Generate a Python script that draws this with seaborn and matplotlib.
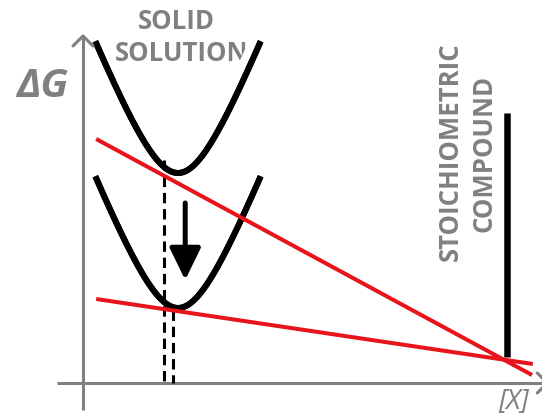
import numpy as np
import matplotlib
matplotlib.use("Agg")
import matplotlib.pyplot as plt
import seaborn as sns
from matplotlib import patheffects as pe

# ---- schematic values (composition x, Gibbs energy ΔG in arbitrary units) ----
# solid-solution free-energy wells: centre, half-width, steepness, tip rounding
well_center = 0.224
well_halfwidth = 0.195
well_steepness = 10.77
well_rounding = 0.0943
well_minima = [2.10, 0.75]          # before and after lowering

# common-tangent lines: composition and ΔG at each end
tangent_x = [[0.031, 1.059], [0.031, 1.061]]
tangent_g = [[2.44, 0.08], [0.84, 0.19]]

# stoichiometric compound bar
compound_x = 1.0
compound_g = [0.26, 2.70]

# dashed drop lines to the composition axis
drop_x = [0.191, 0.212]
drop_top = [2.23, 0.73]

# arrow showing the lowering of the well
arrow_x = 0.241
arrow_g = [1.80, 1.03]

labels_solid = ["SOLID", "SOLUTION"]
labels_compound = ["STOICHIOMETRIC", "COMPOUND"]

GRAY = "#808080"
RED = "#e8141c"

sns.set_style("white")
plt.rcParams["font.family"] = ["Open Sans", "DejaVu Sans"]

fig = plt.figure(figsize=(5.42, 4.15), dpi=100)
ax = fig.add_axes([0, 0, 1, 1])
ax.set_xlim(-0.1958, 1.0825)
ax.set_ylim(-0.32, 3.83)
ax.axis("off")

# axes with open arrow heads
ax.plot([0, 0], [-0.27, 3.47], color=GRAY, lw=2.2, zorder=5, solid_capstyle="butt")
ax.plot([-0.0236, 0, 0.0236], [3.37, 3.47, 3.37], color=GRAY, lw=2.2, zorder=5)
ax.plot([-0.061, 1.095], [0, 0], color=GRAY, lw=2.2, zorder=5, solid_capstyle="butt")
ax.plot([1.095 - 0.0236, 1.095, 1.095 - 0.0236], [0.1, 0, -0.1], color=GRAY, lw=2.2, zorder=5)

# axis titles
ax.text(-0.0967, 2.97, "ΔG", color=GRAY, fontsize=29, fontweight="bold",
        fontstyle="italic", ha="center", va="center")
ax.text(1.0165, -0.19, "[X]", color=GRAY, fontsize=20, fontstyle="italic",
        ha="center", va="center")

# region labels
LABEL_SIZE = 18.5
ax.text(well_center - 0.004, 3.62, labels_solid[0], color=GRAY, fontsize=LABEL_SIZE,
        fontweight="bold", ha="center", va="center", zorder=1)
ax.text(well_center + 0.009, 3.30, labels_solid[1], color=GRAY, fontsize=LABEL_SIZE,
        fontweight="bold", ha="center", va="center", zorder=1)
ax.text(0.8656, 2.31, labels_compound[0], color=GRAY, fontsize=LABEL_SIZE,
        fontweight="bold", rotation=90, ha="center", va="center")
ax.text(0.9458, 2.30, labels_compound[1], color=GRAY, fontsize=LABEL_SIZE,
        fontweight="bold", rotation=90, ha="center", va="center")

# free-energy wells
u = np.linspace(-well_halfwidth, well_halfwidth, 301)
shape = well_steepness * (np.sqrt(u**2 + well_rounding**2) - well_rounding)
for gmin in well_minima:
    sns.lineplot(x=well_center + u, y=gmin + shape, color="black", lw=4.3,
                 sort=False, estimator=None, ax=ax, zorder=3)
    ln = ax.lines[-1]
    ln.set_solid_capstyle("butt")
    ln.set_path_effects([pe.withStroke(linewidth=16, foreground="white"), pe.Normal()])

# dashed drop lines
for x, top in zip(drop_x, drop_top):
    sns.lineplot(x=[x, x], y=[top, 0], color="black", lw=2.2, sort=False,
                 estimator=None, ax=ax, zorder=6)
    ax.lines[-1].set_linestyle((0, (3.4, 1.9)))

# tangent lines
for xs, gs in zip(tangent_x, tangent_g):
    sns.lineplot(x=xs, y=gs, color=RED, lw=2.9, sort=False, estimator=None,
                 ax=ax, zorder=7)
    ax.lines[-1].set_solid_capstyle("butt")

# compound bar
sns.lineplot(x=[compound_x, compound_x], y=compound_g, color="black", lw=4.7,
             sort=False, estimator=None, ax=ax, zorder=6)
ax.lines[-1].set_solid_capstyle("butt")

# lowering arrow
ax.annotate("", xy=(arrow_x, arrow_g[1]), xytext=(arrow_x, arrow_g[0]),
            arrowprops=dict(arrowstyle="-|>,head_length=1.95,head_width=0.95",
                            mutation_scale=10, lw=3.6, color="black",
                            shrinkA=0, shrinkB=0), zorder=6)

fig.savefig("out.png", dpi=100)
